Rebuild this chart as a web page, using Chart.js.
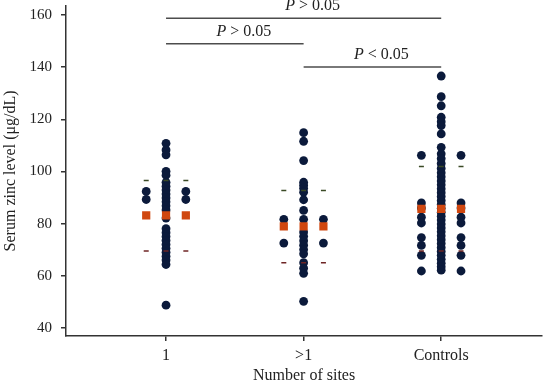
<!DOCTYPE html>
<html>
<head>
<meta charset="UTF-8">
<title>Serum zinc level</title>
<script src="https://cdn.jsdelivr.net/npm/chart.js"></script>
<style>
  html, body { margin: 0; padding: 0; background: #fff; }
  #wrap { width: 548px; height: 386px; }
</style>
</head>
<body>
<div id="wrap"><canvas id="zincChart"></canvas></div>
<script>
// values
const categories = ['1', '>1', 'Controls'];
const yTicks = [40, 60, 80, 100, 120, 140, 160];

const oneSite = [110.8, 108.3, 106.4, 100.1, 98.6, 95.9, 94.4, 92.9, 91.4, 89.9, 88.4, 86.9, 85.3,
  82.2, 78.1, 76.6, 75.1, 73.6, 72.1, 70.6, 69.1, 67.6, 66.1, 64.4, 48.8];
const oneSiteSide = [92.4, 89.3];

const multiSite = [114.9, 111.6, 104.2, 95.9, 94.8, 93.6, 92.1, 89.2, 85.1, 81.7, 76.8, 75.2, 73.5,
  71.8, 70.1, 68.5, 65.1, 63.0, 61.0, 50.3];
const multiSiteSide = [81.7, 72.6];

const controls = [136.6, 128.7, 125.2, 120.8, 119.1, 117.6, 114.4, 109.3, 106.8, 105.0, 103.1, 101.2,
  99.5, 98.0, 96.4, 94.9, 93.4, 91.9, 90.4, 88.9, 87.4, 85.9, 84.4, 82.9, 81.4, 79.9, 78.4, 76.9,
  75.4, 73.9, 72.4, 70.9, 69.4, 67.9, 66.4, 64.9, 63.5, 62.2];
const controlsSide = [106.2, 88.0, 86.0, 82.5, 80.3, 74.7, 71.7, 67.9, 61.9];

const means = [83.2, 79.0, 85.7];
const sdUpper = [96.6, 92.7, 101.9];
const sdLower = [69.6, 65.1, 69.6];

const pLabels = ['P > 0.05', 'P > 0.05', 'P < 0.05'];
const pFrom = [1, 1, 2];
const pTo = [3, 2, 3];
const pLevel = [158.7, 149.0, 140.1];

const sideShift = 0.144;
const navy = '#0b1a3b';
const serif = '"Liberation Serif", "Times New Roman", serif';

function column(vals, pos) {
  return vals.map(v => ({ x: pos, y: v }));
}
function withSides(vals, pos) {
  return column(vals, pos - sideShift).concat(column(vals, pos + sideShift));
}
function triple(vals) {
  const out = [];
  vals.forEach((v, i) => {
    [-1, 0, 1].forEach(k => out.push({ x: i + 1 + k * sideShift, y: v }));
  });
  return out;
}

const dots = [].concat(
  column(oneSite, 1), withSides(oneSiteSide, 1),
  column(multiSite, 2), withSides(multiSiteSide, 2),
  column(controls, 3), withSides(controlsSide, 3)
);

const bracketPlugin = {
  id: 'brackets',
  afterDatasetsDraw(chart) {
    const { ctx, scales: { x, y } } = chart;
    ctx.save();
    ctx.strokeStyle = '#4d4d4d';
    ctx.lineWidth = 1.5;
    ctx.fillStyle = '#222';
    ctx.textBaseline = 'alphabetic';
    pLabels.forEach((lab, i) => {
      const x1 = x.getPixelForValue(pFrom[i]);
      const x2 = x.getPixelForValue(pTo[i]);
      const py = y.getPixelForValue(pLevel[i]);
      ctx.beginPath();
      ctx.moveTo(x1, py);
      ctx.lineTo(x2, py);
      ctx.stroke();

      const head = lab.charAt(0), rest = lab.slice(1);
      ctx.font = 'italic 16px ' + serif;
      const w1 = ctx.measureText(head).width;
      ctx.font = '16px ' + serif;
      const w2 = ctx.measureText(rest).width;
      const tx = (x1 + x2) / 2 + 9 - (w1 + w2) / 2;
      ctx.font = 'italic 16px ' + serif;
      ctx.fillText(head, tx, py - 8);
      ctx.font = '16px ' + serif;
      ctx.fillText(rest, tx + w1, py - 8);
    });
    ctx.restore();
  }
};

new Chart(document.getElementById('zincChart'), {
  type: 'scatter',
  data: {
    datasets: [
      {
        data: triple(means), order: 0, pointStyle: 'rect', pointRadius: 5.8,
        backgroundColor: '#d0470f', borderWidth: 0
      },
      {
        data: triple(sdUpper), order: 0, pointStyle: 'line', pointRadius: 2.5,
        borderColor: '#3a4a25', borderWidth: 1.5
      },
      {
        data: triple(sdLower), order: 0, pointStyle: 'line', pointRadius: 2.5,
        borderColor: '#6e2424', borderWidth: 1.5
      },
      {
        data: dots, order: 1, pointRadius: 4.4,
        backgroundColor: navy, borderWidth: 0
      }
    ]
  },
  options: {
    responsive: true,
    maintainAspectRatio: false,
    animation: false,
    layout: { padding: { top: 5, right: 0, left: 0, bottom: 0 } },
    plugins: { legend: { display: false }, tooltip: { enabled: false } },
    scales: {
      x: {
        type: 'linear', min: 0.273, max: 3.734,
        afterBuildTicks: s => { s.ticks = categories.map((c, i) => ({ value: i + 1 })); },
        afterFit: s => { s.height = 50; s.paddingLeft = 0; s.paddingRight = 0; },
        ticks: {
          callback: (v, i) => categories[i], color: '#222', padding: 5, maxRotation: 0,
          font: { family: serif, size: 16 }
        },
        grid: { drawOnChartArea: false, drawTicks: true, tickLength: 5, color: '#333', lineWidth: 1.5 },
        border: { color: '#333', width: 1.5 },
        title: {
          display: true, text: 'Number of sites', color: '#222',
          font: { family: serif, size: 16 }, padding: { top: 0, bottom: 1 }
        }
      },
      y: {
        min: 37, max: 163.5,
        afterBuildTicks: s => { s.ticks = yTicks.map(v => ({ value: v })); },
        afterFit: s => { s.width = 66; s.paddingTop = 0; s.paddingBottom = 0; },
        ticks: { color: '#222', padding: 9, font: { family: serif, size: 15 } },
        grid: { drawOnChartArea: false, drawTicks: true, tickLength: 5, color: '#333', lineWidth: 1.5 },
        border: { color: '#333', width: 1.5 },
        title: {
          display: true, text: 'Serum zinc level (μg/dL)', color: '#222',
          font: { family: serif, size: 16 }, padding: { top: 1, bottom: 0 }
        }
      }
    }
  },
  plugins: [bracketPlugin]
});
</script>
</body>
</html>
